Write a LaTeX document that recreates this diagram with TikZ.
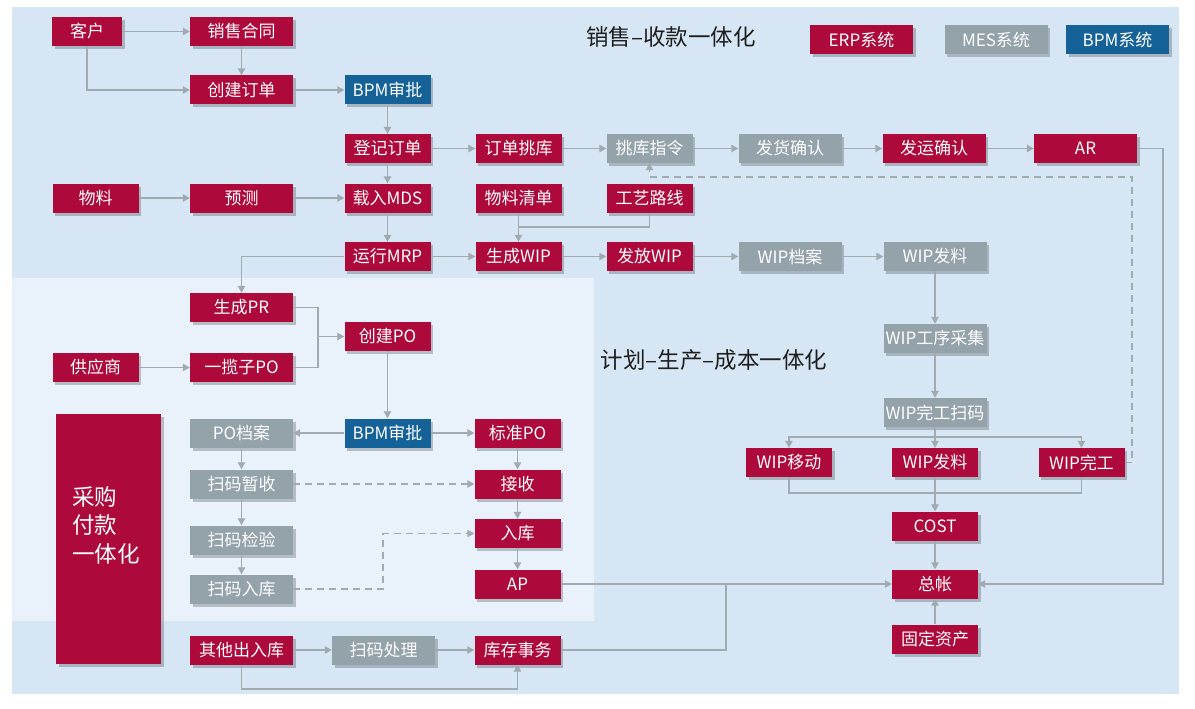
\documentclass[tikz,border=0pt]{standalone}
\usepackage{fontspec}
\setmainfont{Noto Sans CJK SC}
\usetikzlibrary{arrows.meta,shadows}
\definecolor{erpred}{RGB}{174,9,59}
\definecolor{mesgray}{RGB}{148,162,170}
\definecolor{bpmblue}{RGB}{20,98,152}
\definecolor{bgblue}{RGB}{215,230,244}
\definecolor{bglight}{RGB}{233,242,250}
\definecolor{linec}{RGB}{160,170,176}
\definecolor{titlec}{RGB}{30,30,30}
\tikzset{
  boxbase/.style={minimum height=29pt, inner sep=0pt, text=white,
    font=\fontsize{17}{20}\selectfont,
    drop shadow={shadow xshift=2.5pt,shadow yshift=-3pt,fill=black,opacity=0.22}},
  erp/.style={boxbase, fill=erpred},
  mes/.style={boxbase, fill=mesgray},
  bpm/.style={boxbase, fill=bpmblue},
  wd/.style={minimum width=103pt},
  nw/.style={minimum width=86pt},
  ln/.style={draw=linec, line width=1.1pt},
  ar/.style={ln, -{Triangle[length=7pt,width=7.5pt]}},
  dsh/.style={dash pattern=on 7pt off 5pt},
  ttl/.style={text=titlec, font=\fontsize{22.5}{25}\selectfont, inner sep=0pt}
}
\begin{document}
\begin{tikzpicture}[x=1pt,y=-1pt]
\useasboundingbox (0,0) rectangle (1195,709);
\fill[bgblue] (12,7) rectangle (1179,694);
\fill[bglight] (12,278) rectangle (594,621);

% titles and legend
\node[ttl] (t1) at (671,37) {销售–收款一体化};
\node[ttl] (t2) at (714,360) {计划–生产–成本一体化};
\node[erp,wd] (lg1) at (861.5,40) {ERP系统};
\node[mes,wd] (lg2) at (996,40) {MES系统};
\node[bpm,wd] (lg3) at (1117.5,40) {BPM系统};

% top rows
\node[erp,minimum width=70pt] (kehu) at (87,31.5) {客户};
\node[erp,wd] (xsht) at (241.5,31.5) {销售合同};
\node[erp,wd] (cjdd) at (241.5,90) {创建订单};
\node[bpm,nw] (bpm1) at (387.5,90) {BPM审批};
\node[erp,nw] (djdd) at (387.5,148.5) {登记订单};
\node[erp,nw] (ddtk) at (518.5,148.5) {订单挑库};
\node[mes,nw] (tkzl) at (649.5,148.5) {挑库指令};
\node[mes,wd] (fhqr) at (790,148.5) {发货确认};
\node[erp,wd] (fyqr) at (934,148.5) {发运确认};
\node[erp,wd] (ar) at (1085.5,148.5) {AR};

\node[erp,nw] (wl) at (95.5,198) {物料};
\node[erp,wd] (yc) at (241.5,198) {预测};
\node[erp,nw] (zrmds) at (387.5,198) {载入MDS};
\node[erp,nw] (wlqd) at (518.5,198) {物料清单};
\node[erp,nw] (gylx) at (649.5,198) {工艺路线};

\node[erp,nw] (yxmrp) at (387.5,256.5) {运行MRP};
\node[erp,nw] (scwip) at (518.5,256.5) {生成WIP};
\node[erp,nw] (ffwip) at (649.5,256.5) {发放WIP};
\node[mes,wd] (wipda) at (790,256.5) {WIP档案};
\node[mes,wd] (wipfl1) at (935,256.5) {WIP发料};

% purchasing block
\node[erp,wd] (scpr) at (241.5,307.5) {生成PR};
\node[erp,nw] (cjpo) at (387.5,336.5) {创建PO};
\node[erp,nw] (gys) at (95.5,367.5) {供应商};
\node[erp,wd] (ylzpo) at (241.5,367.5) {一揽子PO};

\node[erp,minimum width=105pt,minimum height=250pt,anchor=north west] (cgfk) at (56,414) {};
\node[text=white,font=\fontsize{22.5}{28.5}\selectfont,align=left,inner sep=0pt,anchor=north west] (cgfkt) at (72,486) {采购\\付款\\一体化};

\node[mes,wd] (poda) at (241.5,433) {PO档案};
\node[bpm,nw] (bpm2) at (387.5,433) {BPM审批};
\node[erp,nw] (bzpo) at (517.5,433) {标准PO};
\node[mes,wd] (smzs) at (241.5,484) {扫码暂收};
\node[erp,nw] (js) at (517.5,484) {接收};
\node[mes,wd] (smjy) at (241.5,540) {扫码检验};
\node[erp,nw] (rk) at (517.5,533.5) {入库};
\node[mes,wd] (smrk) at (241.5,589) {扫码入库};
\node[erp,nw] (ap) at (517.5,584) {AP};
\node[erp,wd] (qtcrk) at (241.5,650) {其他出入库};
\node[mes,wd] (smcl) at (383.5,650) {扫码处理};
\node[erp,nw] (kcsw) at (517.5,650) {库存事务};

% production / cost
\node[mes,wd] (wipgx) at (935,338.5) {WIP工序采集};
\node[mes,wd] (wipwg) at (935,412.5) {WIP完工扫码};
\node[erp,nw] (wipyd) at (789,462.5) {WIP移动};
\node[erp,nw] (wipfl2) at (935,462.5) {WIP发料};
\node[erp,nw] (wipwgg) at (1081.5,462.5) {WIP完工};
\node[erp,nw] (cost) at (935,526) {COST};
\node[erp,nw] (zz) at (935,584) {总帐};
\node[erp,nw] (gdzc) at (935,639) {固定资产};

% junction coordinates
\coordinate (arR) at (1163,148.5);
\coordinate (j1) at (518.5,227);
\coordinate (j2) at (935,437);
\coordinate (j3) at (935,493);
\coordinate (j4) at (726,584);
\coordinate (j5) at (318,336.5);
\coordinate (d1) at (1132,177);
\coordinate (d2) at (383,533.5);
\coordinate (d3) at (241.5,689);

% connectors
\draw[ar] (kehu) -- (xsht);
\draw[ar] (kehu.south) |- (cjdd.west);
\draw[ar] (xsht) -- (cjdd);
\draw[ar] (cjdd) -- (bpm1);
\draw[ar] (bpm1) -- (djdd);
\draw[ar] (djdd) -- (zrmds);
\draw[ar] (djdd) -- (ddtk);
\draw[ar] (ddtk) -- (tkzl);
\draw[ar] (tkzl) -- (fhqr);
\draw[ar] (fhqr) -- (fyqr);
\draw[ar] (fyqr) -- (ar);
\draw[ar] (ar.east) -- (arR) |- (zz.east);
\draw[ar] (wl) -- (yc);
\draw[ar] (yc) -- (zrmds);
\draw[ar] (zrmds) -- (yxmrp);
\draw[ar] (yxmrp) -- (scwip);
\draw[ar] (wlqd) -- (scwip);
\draw[ln] (gylx.south) |- (j1);
\draw[ar] (scwip) -- (ffwip);
\draw[ar] (ffwip) -- (wipda);
\draw[ar] (wipda) -- (wipfl1);
\draw[ar] (wipfl1) -- (wipgx);
\draw[ar] (wipgx) -- (wipwg);
\draw[ar] (wipwg) -- (wipfl2);
\draw[ar] (j2) -| (wipyd.north);
\draw[ar] (j2) -| (wipwgg.north);
\draw[ar] (wipfl2) -- (cost);
\draw[ln] (wipyd.south) |- (j3);
\draw[ln] (wipwgg.south) |- (j3);
\draw[ar] (cost) -- (zz);
\draw[ar] (gdzc) -- (zz);
\draw[ar] (ap) -- (zz);
\draw[ln] (kcsw.east) -| (j4);
\draw[ar,dsh] (wipwgg.east) -| (d1) -| (tkzl.south);
\draw[ar] (yxmrp.west) -| (scpr.north);
\draw[ln] (scpr.east) -| (j5) |- (ylzpo.east);
\draw[ar] (j5) -- (cjpo.west);
\draw[ar] (gys) -- (ylzpo);
\draw[ar] (cjpo) -- (bpm2);
\draw[ar] (bpm2) -- (poda);
\draw[ar] (bpm2) -- (bzpo);
\draw[ar] (bzpo) -- (js);
\draw[ar] (js) -- (rk);
\draw[ar] (rk) -- (ap);
\draw[ar] (poda) -- (smzs);
\draw[ar] (smzs) -- (smjy);
\draw[ar] (smjy) -- (smrk);
\draw[ar,dsh] (smzs) -- (js);
\draw[ar,dsh] (smrk.east) -| (d2) -- (rk.west);
\draw[ar] (qtcrk) -- (smcl);
\draw[ar] (smcl) -- (kcsw);
\draw[ar] (qtcrk.south) -- (d3) -| (kcsw.south);
\end{tikzpicture}
\end{document}
